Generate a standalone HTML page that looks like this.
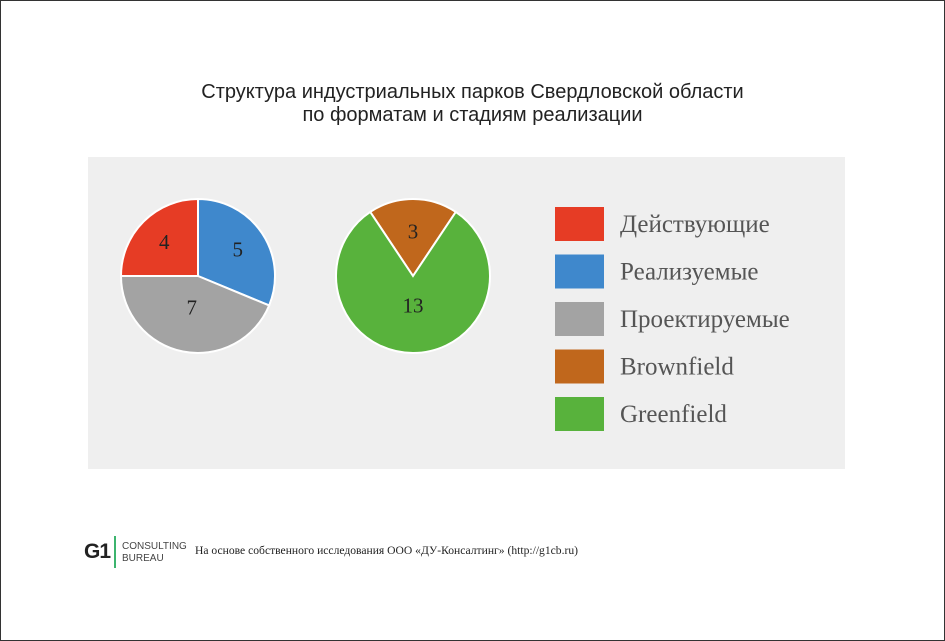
<!DOCTYPE html>
<html><head><meta charset="utf-8"><style>
body{margin:0;width:945px;height:641px;background:#fff;overflow:hidden}
#frame{position:absolute;left:0;top:0;width:943px;height:639px;border:1px solid #333}
.title{position:absolute;left:0;width:945px;text-align:center;font:20px "Liberation Sans",sans-serif;color:#222}
</style></head><body>
<div id="frame"></div>
<div class="title" style="top:81px">Структура индустриальных парков Свердловской области</div>
<div class="title" style="top:104px">по форматам и стадиям реализации</div>
<svg id="chart" width="945" height="641" style="position:absolute;left:0;top:0">
<rect x="88" y="157" width="757" height="312" fill="#efefef"/>
</svg>
<div style="position:absolute;left:84px;top:540px;font:bold 21px 'Liberation Sans',sans-serif;color:#222;letter-spacing:-1px">G1</div>
<div style="position:absolute;left:114px;top:536px;width:2px;height:32px;background:#3cb46e"></div>
<div style="position:absolute;left:122px;top:541px;font:10px/12px 'Liberation Sans',sans-serif;color:#444">CONSULTING<br>BUREAU</div>
<div style="position:absolute;left:195px;top:544px;font:11.6px 'Liberation Serif',serif;color:#222">На основе собственного исследования ООО «ДУ-Консалтинг» (http://g1cb.ru)</div>
<script>
const stageLabels=["Действующие","Реализуемые","Проектируемые"];
const stageValues=[4,5,7];
const formatLabels=["Brownfield","Greenfield"];
const formatValues=[3,13];
const NS="http://www.w3.org/2000/svg";
const svg=document.getElementById('chart');
function mk(t,a){const e=document.createElementNS(NS,t);for(const k in a)e.setAttribute(k,a[k]);svg.appendChild(e);return e;}
function pt(cx,cy,r,a){return [cx+r*Math.sin(a),cy-r*Math.cos(a)];}
function pie(cx,cy,r,vals,cols,start,names,lr){
 const tot=vals.reduce((a,b)=>a+b,0);let a=start;
 vals.forEach((v,i)=>{const da=v/tot*2*Math.PI;const p1=pt(cx,cy,r,a),p2=pt(cx,cy,r,a+da);
  const p=mk('path',{d:`M${cx},${cy}L${p1[0]},${p1[1]}A${r},${r} 0 ${da>Math.PI?1:0} 1 ${p2[0]},${p2[1]}Z`,fill:cols[i],stroke:'#fff','stroke-width':2});
  
  
  const lp=pt(cx,cy,r*lr[i],a+da/2);
  const t=mk('text',{x:lp[0],y:lp[1]+7,'text-anchor':'middle','font-family':'Liberation Serif,serif','font-size':21,fill:'#222'});
  t.textContent=v;
  
  
  a+=da;});
}
const stageColors=["#e63c25","#3f88cc","#a3a3a3"];
const formatColors=["#c0671c","#58b23c"];
pie(198,276,77,[stageValues[1],stageValues[2],stageValues[0]],[stageColors[1],stageColors[2],stageColors[0]],0,['realizuemye','proektiruemye','deystvuyushchie'],[0.62,0.42,0.62]);
const bf=formatValues[0]/(formatValues[0]+formatValues[1])*Math.PI;
pie(413,276,77,formatValues,formatColors,-bf,['brownfield','greenfield'],[0.58,0.38]);
const legLabels=stageLabels.concat(formatLabels);
const legColors=stageColors.concat(formatColors);
legLabels.forEach((l,i)=>{const y=207+i*47.5;
 const r=mk('rect',{x:555,y:y,width:49,height:34,fill:legColors[i]});
 
 
 const t=mk('text',{x:620,y:y+25,'font-family':'Liberation Serif,serif','font-size':25,fill:'#555'});
 t.textContent=l;
 
 
});
</script>
</body></html>
